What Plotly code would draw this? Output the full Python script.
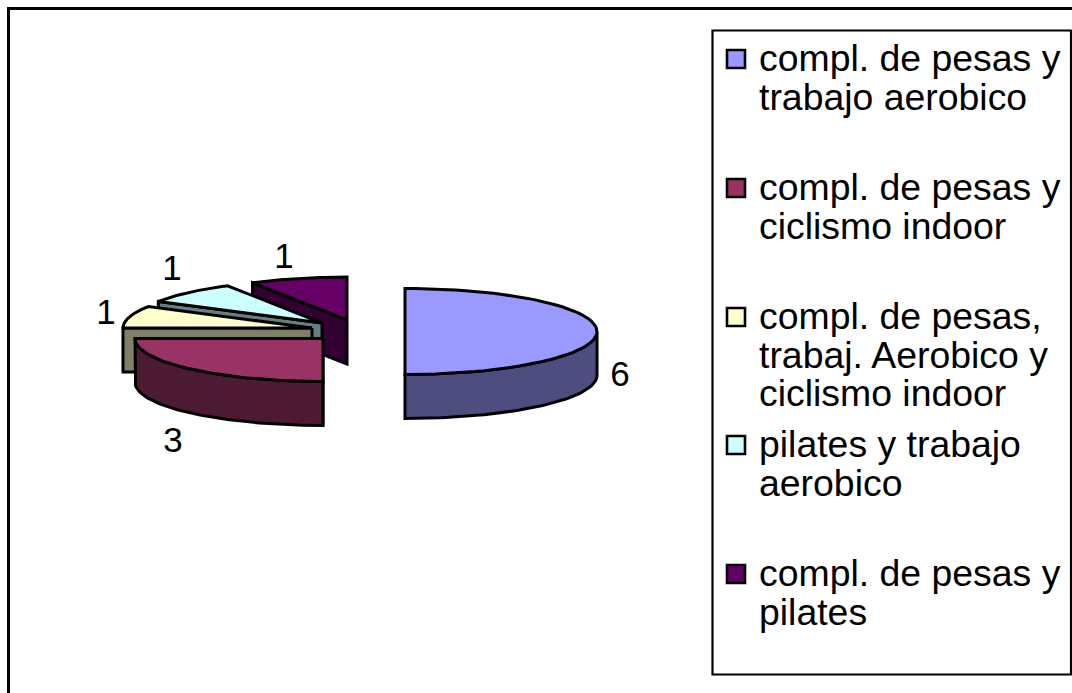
import numpy as np
import plotly.graph_objects as go

# --- data ---
categories = [
    "compl. de pesas y trabajo aerobico",
    "compl. de pesas y ciclismo indoor",
    "compl. de pesas, trabaj. Aerobico y ciclismo indoor",
    "pilates y trabajo aerobico",
    "compl. de pesas y pilates",
]
values = [6, 3, 1, 1, 1]
legend_lines = [
    ["compl. de pesas y", "trabajo aerobico"],
    ["compl. de pesas y", "ciclismo indoor"],
    ["compl. de pesas,", "trabaj. Aerobico y", "ciclismo indoor"],
    ["pilates y trabajo", "aerobico"],
    ["compl. de pesas y", "pilates"],
]

# --- style / layout ---
top_colors = ["#9999FF", "#993366", "#FFFFCC", "#CCFFFF", "#660066"]
wall_colors = ["#4D4D80", "#4D1A33", "#808066", "#668080", "#330033"]
centers_x = [405, 323, 312, 322, 347]
centers_y = [331.5, 338.5, 328, 323, 320]
radii_x = [192, 188, 189, 189, 189]
radius_y = 43
depth = 44
label_x = [620, 173, 106, 172, 284]
label_y = [377, 443, 315, 271, 259]
legend_first_y = [58, 187, 316, 444, 573]
legend_line_step = 38.7
LINE = dict(color="black", width=3)
FONT = "Liberation Sans, Arial, sans-serif"

total = sum(values)
bounds = np.concatenate([[0], np.cumsum(values)]) * 360.0 / total


def arc(cx, cy, rx, a0, a1, dy=0.0):
    t = np.radians(np.linspace(a0, a1, 60))
    return cx + rx * np.sin(t), cy - radius_y * np.cos(t) + dy


def poly(x, y, color):
    return go.Scatter(
        x=list(x) + [x[0]], y=list(y) + [y[0]], mode="lines", fill="toself",
        fillcolor=color, line=LINE, hoverinfo="skip", showlegend=False,
    )


fig = go.Figure()
# paint from the back slice to the front slice
for i in [4, 3, 2, 1, 0]:
    a0, a1 = bounds[i], bounds[i + 1]
    cx, cy, rx = centers_x[i], centers_y[i], radii_x[i]
    # cut face seen at the leading edge
    if a0 >= 180:
        ex, ey = arc(cx, cy, rx, a0, a0)
        ex, ey = ex[0], ey[0]
        fig.add_trace(poly([cx, ex, ex, cx], [cy, ey, ey + depth, cy + depth], wall_colors[i]))
    # outer wall, front part only
    v0, v1 = max(a0, 90), min(a1, 270)
    if v1 > v0:
        ux, uy = arc(cx, cy, rx, v0, v1)
        lx, ly = arc(cx, cy, rx, v1, v0, depth)
        fig.add_trace(poly(np.r_[ux, lx], np.r_[uy, ly], wall_colors[i]))
    # top face
    tx, ty = arc(cx, cy, rx, a0, a1)
    fig.add_trace(poly(np.r_[cx, tx], np.r_[cy, ty], top_colors[i]))

# data labels
fig.add_trace(go.Scatter(
    x=label_x, y=label_y, mode="text", text=[str(v) for v in values],
    textposition="middle center", textfont=dict(family=FONT, size=35, color="black"),
    hoverinfo="skip", showlegend=False,
))

# legend swatches
swatch_y = [59, 188, 317, 445, 574]
for i in range(len(categories)):
    fig.add_trace(go.Scatter(
        x=[736], y=[swatch_y[i]], mode="markers", name=categories[i],
        marker=dict(symbol="square", size=18, color=top_colors[i], line=dict(color="black", width=2.6)),
        hoverinfo="skip", showlegend=False,
    ))

annotations = []
for first, lines in zip(legend_first_y, legend_lines):
    for k, line in enumerate(lines):
        annotations.append(dict(
            x=757, y=first + k * legend_line_step, xref="x", yref="y", text=line,
            showarrow=False, xanchor="left", yanchor="middle",
            font=dict(family=FONT, size=37.4, color="black"),
        ))

fig.update_layout(
    width=1072, height=693, margin=dict(l=0, r=0, t=0, b=0),
    paper_bgcolor="white", plot_bgcolor="white", showlegend=False,
    xaxis=dict(range=[0, 1072], visible=False, fixedrange=True),
    yaxis=dict(range=[693, 0], visible=False, fixedrange=True),
    annotations=annotations,
    shapes=[
        dict(type="rect", xref="x", yref="y", x0=8.5, y0=8.5, x1=1090, y1=710,
             line=dict(color="black", width=3)),
        dict(type="rect", xref="x", yref="y", x0=712.5, y0=30.5, x1=1071, y1=674.5,
             line=dict(color="black", width=2.2)),
    ],
)
fig.write_html(
    "out.html",
    config={"displayModeBar": False},
    post_script="document.body.style.margin='0';document.documentElement.style.overflow='hidden';",
)
